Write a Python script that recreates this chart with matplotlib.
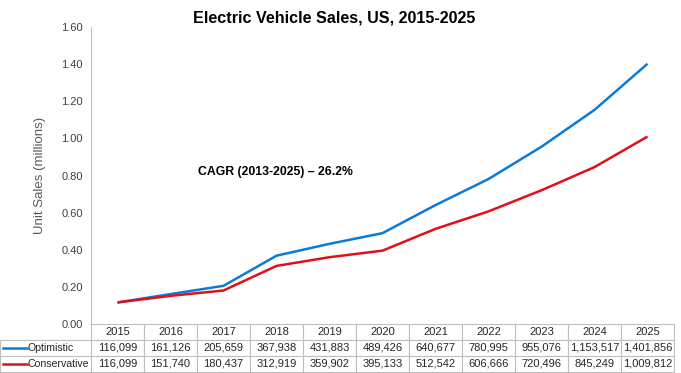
import matplotlib.pyplot as plt
from matplotlib.lines import Line2D

plt.rcParams['font.family'] = ['Liberation Sans', 'DejaVu Sans']

years = ['2015', '2016', '2017', '2018', '2019', '2020', '2021', '2022', '2023', '2024', '2025']
optimistic = [116099, 161126, 205659, 367938, 431883, 489426, 640677, 780995, 955076, 1153517, 1401856]
conservative = [116099, 151740, 180437, 312919, 359902, 395133, 512542, 606666, 720496, 845249, 1009812]
series_names = ['Optimistic', 'Conservative']
colors = ['#0B7BD8', '#E0101A']

fig = plt.figure(figsize=(6.81, 3.73), dpi=100)
ax = fig.add_axes([91 / 681, 49 / 373, 583 / 681, 297 / 373])

x = list(range(len(years)))
for vals, c in zip([optimistic, conservative], colors):
    ax.plot(x, [v / 1e6 for v in vals], color=c, lw=1.8, solid_capstyle='butt')

ax.set_xlim(-0.5, len(years) - 0.5)
ax.set_ylim(0, 1.6)
ax.set_yticks([i * 0.2 for i in range(9)])
ax.set_yticklabels(['%.2f' % (i * 0.2) for i in range(9)], fontsize=8, color='#404040')
ax.set_xticks([])
ax.tick_params(axis='y', length=0, pad=6)
for s in ['top', 'right', 'bottom']:
    ax.spines[s].set_visible(False)
ax.spines['left'].set_color('#BFBFBF')
ax.set_ylabel('Unit Sales (millions)', fontsize=9.5, color='#595959', labelpad=11)

ax.text(1.52, 0.82, 'CAGR (2013-2025) \u2013 26.2%', fontsize=8.8, fontweight='bold', va='center', ha='left')
fig.text(334 / 681, 0.952, 'Electric Vehicle Sales, US, 2015-2025', fontsize=11.6, fontweight='bold', ha='center', va='center')

# data table under the axes
label_w = 91 / 583
rows = [[''] + years]
for name, vals in zip(series_names, [optimistic, conservative]):
    rows.append([name] + ['{:,}'.format(v) for v in vals])
tbl_h = 48 / 297
tbl = ax.table(cellText=rows, colWidths=[label_w] + [1 / len(years)] * len(years),
               bbox=[-label_w, -tbl_h, 1 + label_w, tbl_h], cellLoc='center')
tbl.auto_set_font_size(False)
tbl.set_fontsize(8)
for (r, c), cell in tbl.get_celld().items():
    cell.set_edgecolor('#BFBFBF')
    cell.set_linewidth(0.8)
    cell.get_text().set_color('#262626')
    if r == 0 and c == 0:
        cell.visible_edges = 'B'
    if r > 0 and c == 0:
        cell.get_text().set_ha('left')
        cell.get_text().set_fontsize(7.6)
        cell._loc = 'left'
        cell.PAD = 0.3

# legend keys in the row labels
for i, c in enumerate(colors):
    yk = -tbl_h + tbl_h * (2 - i - 0.5) / 3
    ax.add_line(Line2D([-label_w + 3 / 583, -label_w + 27 / 583], [yk, yk], color=c, lw=1.8,
                       transform=ax.transAxes, clip_on=False))

fig.savefig('out.png', dpi=100)
